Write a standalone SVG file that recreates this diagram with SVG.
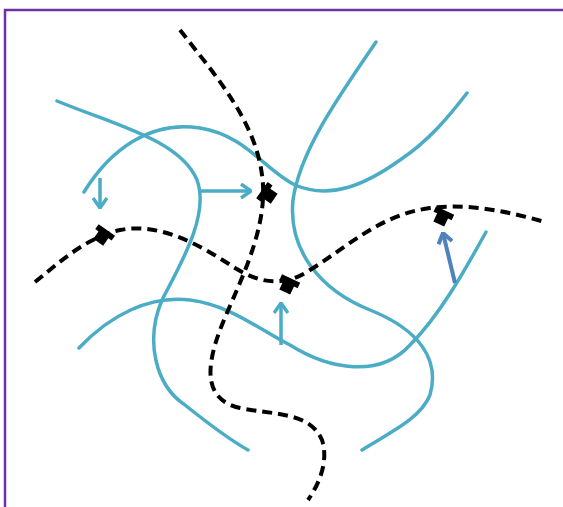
<svg xmlns="http://www.w3.org/2000/svg" width="563" height="507" viewBox="0 0 563 507">
<defs>
<style>
.blue{fill:none;stroke:#4BACC6;stroke-width:3.5;stroke-linecap:round}
.dash{fill:none;stroke:#000;stroke-width:4;stroke-dasharray:10,6}
.arr{fill:none;stroke:#4BACC6;stroke-width:3.5}
.arr2{fill:none;stroke:#4F81BD;stroke-width:4}
.mk{fill:#000}
</style>
<marker id="ah" viewBox="0 0 12 16" refX="11" refY="8" markerWidth="12" markerHeight="16" markerUnits="userSpaceOnUse" orient="auto">
<path d="M1,1 L11,8 L1,15" fill="none" stroke="#4BACC6" stroke-width="3.5"/>
</marker>
<marker id="ah2" viewBox="0 0 12 16" refX="11" refY="8" markerWidth="12" markerHeight="16" markerUnits="userSpaceOnUse" orient="auto">
<path d="M1,1 L11,8 L1,15" fill="none" stroke="#4F81BD" stroke-width="4"/>
</marker>
<path id="sym" d="M-10,-5 L10,-5 L10,1 L6,1 L6,10 L-6,10 L-6,1 L-10,1 Z"/>
</defs>
<rect x="5" y="10" width="600" height="600" fill="none" stroke="#7030A0" stroke-width="2.5"/>
<g id="connectors">
<path class="blue" d="M57,101 C115,125 180,140 197,180 C210,215 180,265 162,300 C145,340 155,385 185,405 C210,425 230,440 248,450"/>
<path class="blue" d="M84,192 C110,150 150,120 200,128 C245,135 265,170 295,185 C330,200 365,185 400,160 C430,140 450,115 467,93"/>
<path class="blue" d="M376,42 C340,95 300,150 293,200 C288,250 320,290 370,310 C420,330 440,360 430,395 C420,420 385,435 362,450"/>
<path class="blue" d="M79,348 C110,315 150,295 190,300 C230,305 260,330 290,345 C330,370 380,378 410,345 C440,315 465,270 486,232"/>
<path class="dash" d="M180,30 C215,75 255,120 262,175 C270,230 235,290 220,330 C205,370 205,400 240,408 C275,415 310,412 322,440 C330,465 315,490 308,500"/>
<path class="dash" d="M35,282 C60,262 85,238 120,230 C160,222 200,245 235,268 C255,280 280,290 310,270 C350,245 380,215 430,208 C470,203 510,212 545,222"/>
<path class="arr" d="M100,178 L100,208" marker-end="url(#ah)"/>
<path class="arr" d="M200,191 L251,191" marker-end="url(#ah)"/>
<path class="arr" d="M281,345 L281,303" marker-end="url(#ah)"/>
<path class="arr2" d="M455,283 L443,233" marker-end="url(#ah2)"/>
</g>
<g id="m1"><use href="#sym" class="mk" transform="translate(104,234) rotate(35)"/></g>
<g id="m2"><use href="#sym" class="mk" transform="translate(266,193) rotate(-55)"/></g>
<g id="m3"><use href="#sym" class="mk" transform="translate(289,283) rotate(25)"/></g>
<g id="m4"><use href="#sym" class="mk" transform="translate(443,215) rotate(25)"/></g>
</svg>
